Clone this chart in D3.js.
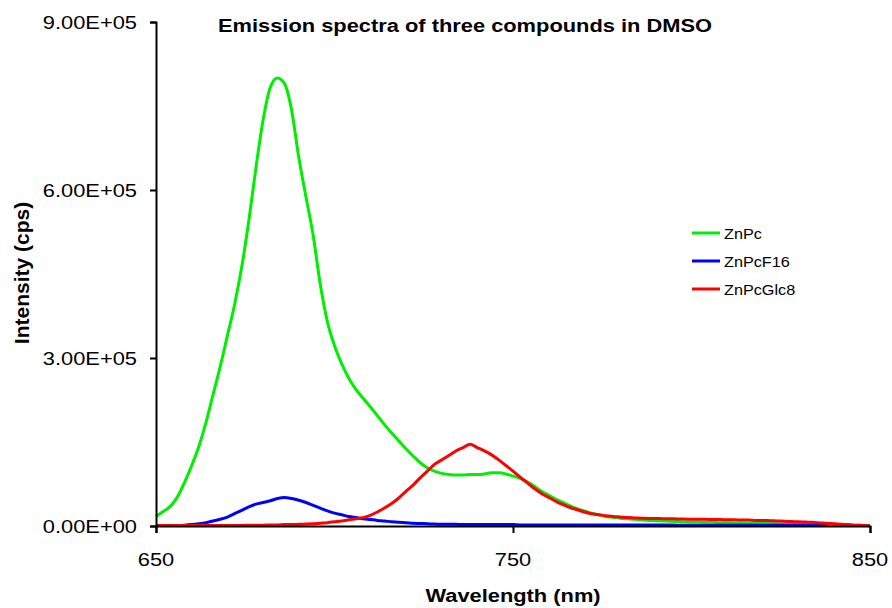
<!DOCTYPE html>
<html>
<head>
<meta charset="utf-8">
<script src="https://cdn.jsdelivr.net/npm/d3@7"></script>
<style>
  html, body { margin: 0; padding: 0; background: #fff; }
  svg { display: block; }
  text { font-family: "Liberation Sans", Arial, sans-serif; fill: #000; }
</style>
</head>
<body>
<svg id="chart" width="892" height="608"></svg>
<script>
// ---------------- data ----------------
const title = "Emission spectra of three compounds in DMSO";
const xTitle = "Wavelength (nm)";
const yTitle = "Intensity (cps)";
const xTicks = [650, 750, 850];
const yTicks = [0, 300000, 600000, 900000];
const yTickLabels = ["0.00E+00", "3.00E+05", "6.00E+05", "9.00E+05"];
const seriesNames = ["ZnPc", "ZnPcF16", "ZnPcGlc8"];
const seriesColors = ["#00ee00", "#0000ff", "#ff0000"];

const wavelength = [
  650,652,654,656,658,660,662,664,666,668,
  670,672,674,676,678,680,682,684,686,688,
  690,692,694,696,698,700,702,704,706,708,
  710,712,714,716,718,720,722,724,726,728,
  730,732,734,736,738,740,742,744,746,748,
  750,752,754,756,758,760,762,764,766,768,
  770,772,774,776,778,780,782,784,786,788,
  790,792,794,796,798,800,802,804,806,808,
  810,812,814,816,818,820,822,824,826,828,
  830,832,834,836,838,840,842,844,846,848,
  850
];

const znpc = [
  17000,26000,35000,52000,78000,108000,142000,185000,235000,285000,
  340000,395000,462000,545000,640000,725000,783000,800000,790000,742000,
  658000,588000,520000,432000,365000,322000,290000,264000,244000,228000,
  213000,197000,181000,166000,152000,138000,125000,113000,104000,98000,
  94000,92000,91000,91000,92000,92000,93000,95000,95000,93000,
  89000,85000,79000,71000,62000,55000,48000,42000,36000,31000,
  27000,23000,20000,17000,15500,14000,13000,12000,11000,10000,
  9500,9000,8500,8000,7500,7000,7000,6500,6500,6000,
  6000,5500,5500,5000,5000,4500,4500,4000,4000,3500,
  3500,3000,3000,2500,2500,2000,2000,1500,1500,1000,
  1000
];

const znpcF16 = [
  null,null,null,1000,1500,2500,4000,6000,9000,12000,
  16000,22000,28000,34000,39000,42000,45000,49000,51000,49000,
  46000,42000,37000,32000,27000,23000,20000,17000,15000,13000,
  11500,10000,9000,7500,6500,6000,5000,4500,4000,3500,
  3000,3000,3000,2500,2500,2500,2500,2500,2500,2500,
  2500,2000,2000,2000,2000,2000,2000,2000,2000,2000,
  2000,2000,2000,2000,2000,2000,2000,2000,2000,2000,
  2000,2000,2000,1500,1500,1500,1500,1500,1500,1500,
  1500,1500,1500,1500,1500,1500,1500,1500,1500,1500,
  1500,1500,1500,1500,1500,null,null,null,null,null,
  null
];

const znpcGlc8 = [
  1000,1000,1000,1000,1000,1000,1000,1000,1000,1000,
  1000,1000,1000,1500,1500,1500,2000,2000,2500,2500,
  3000,3500,4000,5000,6000,7500,9000,11000,13000,15000,
  19000,25000,32000,40000,50000,62000,73000,86000,98000,110000,
  118000,126000,134000,140000,146000,140000,134000,127000,118000,108000,
  98000,87000,77000,67000,58000,51000,44000,38000,33000,29000,
  25000,22000,20000,18500,17000,16000,15000,14500,14000,13500,
  13500,13000,13000,12500,12500,12000,12000,12000,11500,11500,
  11000,11000,10500,10500,10000,10000,9500,9000,8500,8000,
  7500,7000,6500,5500,4500,4000,3000,2500,1500,1000,
  500
];

const seriesValues = [znpc, znpcF16, znpcGlc8];

// ---------------- chart ----------------
const svg = d3.select("#chart");
svg.append("rect").attr("width", 892).attr("height", 608).attr("fill", "#fff");

const x = d3.scaleLinear().domain([650, 850]).range([156, 870]);
const y = d3.scaleLinear().domain([0, 900000]).range([526, 22]);
const SX = 1.15; // horizontal text stretch seen in the reference

// lines
const line = d3.line()
  .defined(d => d[1] !== null)
  .x(d => x(d[0]))
  .y(d => y(d[1]))
  .curve(d3.curveMonotoneX);

seriesValues.forEach((vals, i) => {
  const pts = wavelength.map((w, j) => [w, vals[j]]);
  svg.append("path")
    .datum(pts)
    .attr("fill", "none")
    .attr("stroke", seriesColors[i])
    .attr("stroke-width", 3)
    .attr("stroke-linejoin", "round")
    .attr("d", line);
});

// axes
const xAxis = svg.append("g").attr("transform", "translate(0,526)")
  .call(d3.axisBottom(x).tickValues(xTicks).tickSize(7).tickFormat(""));
const yAxis = svg.append("g").attr("transform", "translate(156,0)")
  .call(d3.axisLeft(y).tickValues(yTicks).tickSize(6).tickFormat(""));
[xAxis, yAxis].forEach(g => {
  g.select(".domain").attr("stroke", "#000").attr("stroke-width", 2);
  g.selectAll(".tick line").attr("stroke", "#000").attr("stroke-width", 2);
});

// tick labels
xTicks.forEach(t => {
  svg.append("text")
    .attr("transform", `translate(${x(t)},566) scale(${SX},1)`)
    .attr("text-anchor", "middle")
    .style("font-size", "19px")
    .text(String(t));
});
yTicks.forEach((t, i) => {
  svg.append("text")
    .attr("transform", `translate(137,${y(t) + 7}) scale(${SX},1)`)
    .attr("text-anchor", "end")
    .style("font-size", "19px")
    .text(yTickLabels[i]);
});

// titles
svg.append("text")
  .attr("transform", `translate(465,32) scale(${SX},1)`)
  .attr("text-anchor", "middle")
  .style("font-size", "19px").style("font-weight", "bold")
  .text(title);
svg.append("text")
  .attr("transform", `translate(513,602) scale(${SX},1)`)
  .attr("text-anchor", "middle")
  .style("font-size", "19px").style("font-weight", "bold")
  .text(xTitle);
svg.append("text")
  .attr("transform", `translate(28.5,273) rotate(-90)`)
  .attr("text-anchor", "middle")
  .style("font-size", "21px").style("font-weight", "bold")
  .text(yTitle);

// legend
const legend = svg.append("g");
seriesNames.forEach((name, i) => {
  const ly = 233 + i * 28;
  legend.append("line")
    .attr("x1", 692).attr("x2", 720).attr("y1", ly).attr("y2", ly)
    .attr("stroke", seriesColors[i]).attr("stroke-width", 3);
  legend.append("text")
    .attr("transform", `translate(724,${ly + 5.5}) scale(1.12,1)`)
    .style("font-size", "14.5px")
    .text(name);
});
</script>
</body>
</html>
